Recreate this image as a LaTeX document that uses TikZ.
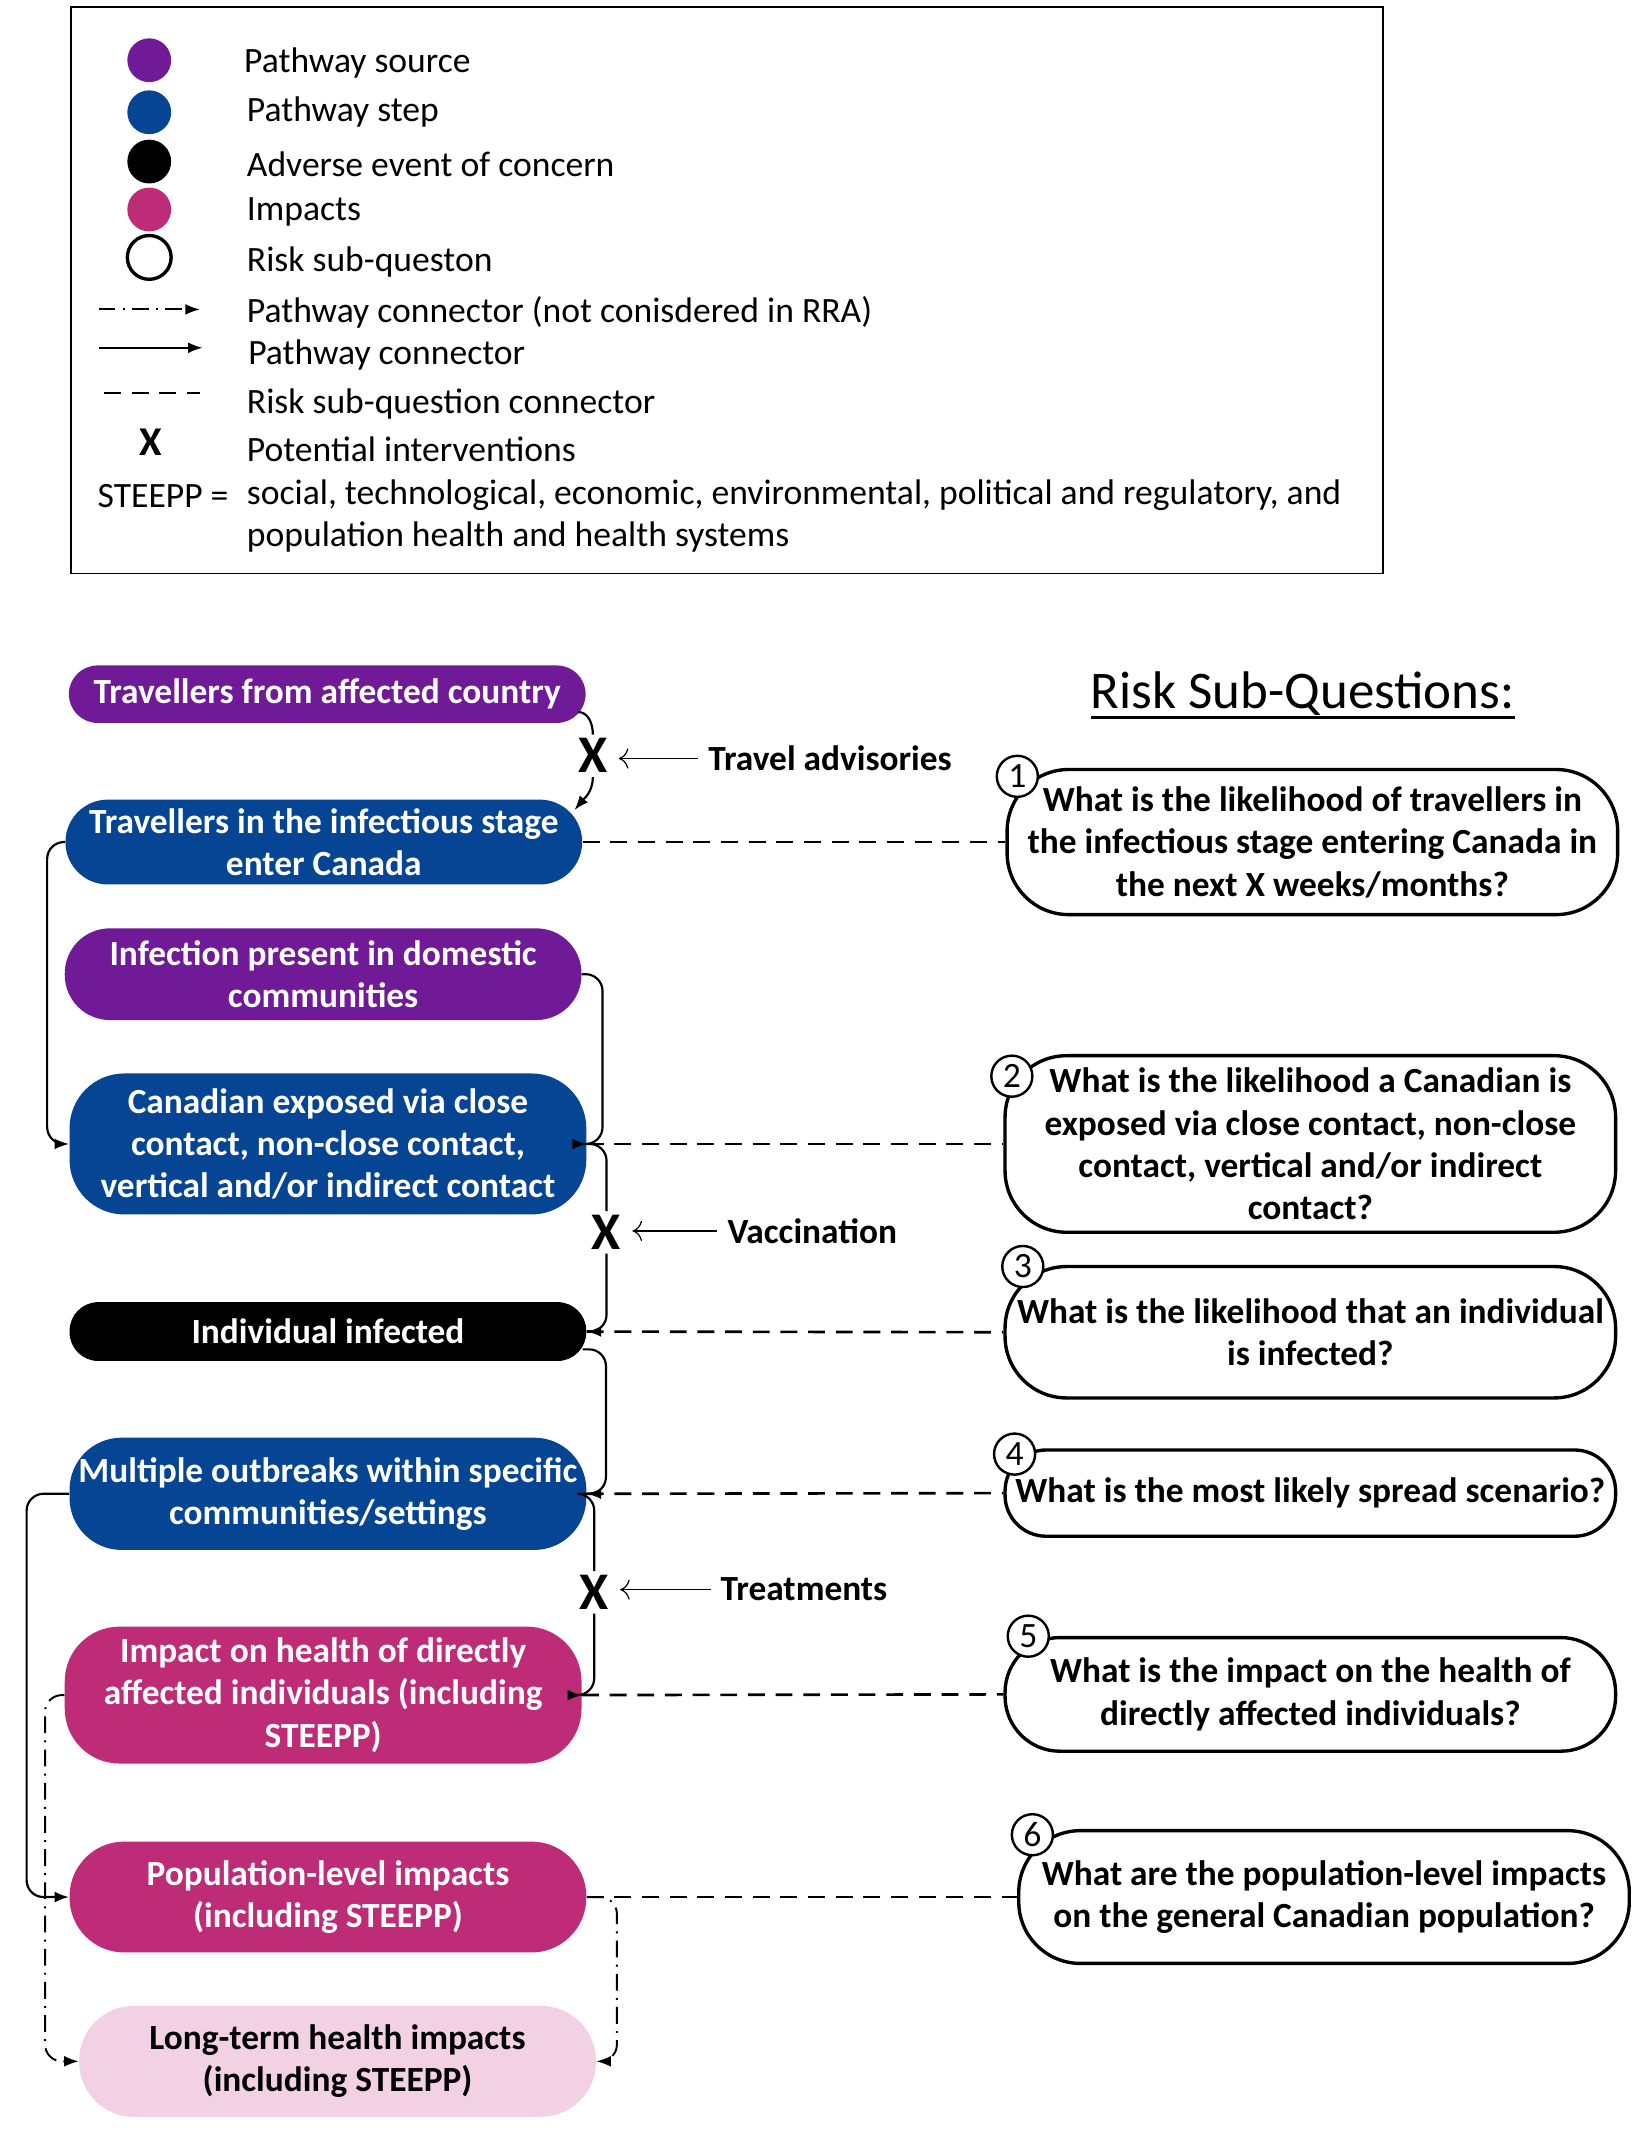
\documentclass[tikz,border=0pt]{standalone}
\usepackage{fontspec}
\setmainfont{Carlito}
\usetikzlibrary{arrows.meta,calc}

\definecolor{srcpurple}{RGB}{112,26,152}
\definecolor{stepblue}{RGB}{6,68,148}
\definecolor{impactpink}{RGB}{190,43,119}
\definecolor{longpink}{RGB}{241,209,227}

\newcommand{\heavyul}[1]{\setbox0=\hbox{#1}\leavevmode\rlap{\rule[-4.5pt]{\wd0}{1.5pt}}\box0}

\tikzset{
	txt/.style={font=\fontsize{14.8}{17.6}\selectfont},
	boldtxt/.style={font=\fontsize{14.7}{17.6}\selectfont\bfseries},
	pathbox/.style={boldtxt, text=white, align=center, inner sep=0pt, minimum width=7.55cm, rounded corners=#1},
	pathbox/.default=0.8cm,
	question/.style={boldtxt, draw, line width=1.4pt, align=center, inner sep=0pt, minimum width=8.92cm, rounded corners=#1},
	question/.default=0.9cm,
	qnum/.style={txt, circle, draw, fill=white, line width=1pt, minimum size=0.6cm, inner sep=0pt},
	legdot/.style={circle, minimum size=0.64cm, inner sep=0pt},
	legtxt/.style={txt, anchor=west, inner sep=0pt},
	xmark/.style={font=\fontsize{22}{26}\selectfont\bfseries, inner sep=1.5pt},
	flow/.style={->, line width=0.9pt, rounded corners=7pt},
	sideflow/.style={->, line width=0.8pt, dash pattern=on 7pt off 3pt on 0.8pt off 3pt, rounded corners=7pt},
	riskline/.style={line width=1.1pt, dash pattern=on 7pt off 4.5pt},
	remedy/.style={-{To[length=4pt]}, line width=0.5pt, shorten <=4pt, shorten >=3pt}
}

\begin{document}
\begin{tikzpicture}[x=0.02cm, y=-0.02cm, >={Latex[length=6pt,width=4.5pt]}]
	\useasboundingbox (0,0) rectangle (1200,1571);

	\draw[line width=0.6pt] (52,5) rectangle (1010,419);

	\node[legdot, fill=srcpurple] (lsrc) at (109,44) {};
	\node[legdot, fill=stepblue] (lstep) at (109,82) {};
	\node[legdot, fill=black] (lev) at (109,118) {};
	\node[legdot, fill=impactpink] (limp) at (109,153) {};
	\node[legdot, draw, line width=1.4pt, fill=white] (lq) at (109,188) {};

	\coordinate (ldda) at (72,226);
	\coordinate (lddb) at (146,226);
	\coordinate (lsla) at (72,254);
	\coordinate (lslb) at (148,254);
	\coordinate (lrqa) at (76,287);
	\coordinate (lrqb) at (146,287);
	\draw[sideflow] (ldda) -- (lddb);
	\draw[flow] (lsla) -- (lslb);
	\draw[riskline] (lrqa) -- (lrqb);
	\node[font=\fontsize{17}{20}\selectfont\bfseries] (lx) at (110,323) {X};

	\node[legtxt] (tsrc) at (178,46) {Pathway source};
	\node[legtxt] (tstep) at (180,82) {Pathway step};
	\node[legtxt] (tev) at (180,120) {Adverse event of concern};
	\node[legtxt] (timp) at (180,155) {Impacts};
	\node[legtxt] (tq) at (180,191) {Risk sub-queston};
	\node[legtxt] (tdd) at (180,228) {Pathway connector (not conisdered in RRA)};
	\node[legtxt] (tsl) at (181,259) {Pathway connector};
	\node[legtxt] (trq) at (180,295) {Risk sub-question connector};
	\node[legtxt] (tx) at (180,328) {Potential interventions};
	\node[legtxt] (tsteepp) at (71,362) {STEEPP =};
	\node[txt, anchor=north west, inner sep=0pt, align=left] (tdef) at (180,350) {social, technological, economic, environmental, political and regulatory, and\\population health and health systems};

	\node[pathbox=0.42cm, fill=srcpurple, minimum height=0.84cm] (trav) at (239,507) {Travellers from affected country};
	\node[pathbox=0.62cm, fill=stepblue, minimum height=1.24cm] (inf) at (236.5,615) {Travellers in the infectious stage\\enter Canada};
	\node[pathbox=0.66cm, fill=srcpurple, minimum height=1.34cm] (dom) at (236,711.5) {Infection present in domestic\\communities};
	\node[pathbox, fill=stepblue, minimum height=2.06cm] (exp) at (239.5,835.5) {Canadian exposed via close\\contact, non-close contact,\\vertical and/or indirect contact};
	\node[pathbox=0.42cm, fill=black, minimum height=0.86cm] (ind) at (239.5,972.5) {Individual infected};
	\node[pathbox=0.76cm, fill=stepblue, minimum height=1.64cm] (outb) at (239.5,1091) {Multiple outbreaks within specific\\communities/settings};
	\node[pathbox, fill=impactpink, minimum height=2cm] (health) at (236,1238) {Impact on health of directly\\affected individuals (including\\STEEPP)};
	\node[pathbox, fill=impactpink, minimum height=1.62cm] (popl) at (239.5,1385.5) {Population-level impacts\\(including STEEPP)};
	\node[pathbox, fill=longpink, text=black, minimum height=1.62cm] (longt) at (246.5,1505.5) {Long-term health impacts\\(including STEEPP)};

	\node[xmark] (x1) at (433,552) {X};
	\node[xmark] (x2) at (443,900) {X};
	\node[xmark] (x3) at (434,1163) {X};

	\node[boldtxt, anchor=west, inner sep=0pt] (advis) at (517,554) {Travel advisories};
	\node[boldtxt, anchor=west, inner sep=0pt] (vacc) at (531,899) {Vaccination};
	\node[boldtxt, anchor=west, inner sep=0pt] (treat) at (526,1161) {Treatments};
	\draw[remedy] (advis.west) -- (advis.west -| x1.east);
	\draw[remedy] (vacc.west) -- (vacc.west -| x2.east);
	\draw[remedy] (treat.west) -- (treat.west -| x3.east);

	\draw[flow, -] ($(trav.east)+(-6,13)$) to[out=0, in=90] (x1.north);
	\draw[flow] (x1.south) to[out=-90, in=50] ($(inf.north east)+(-6,8)$);
	\draw[flow] (inf.west) -- ++(-13,0) |- (exp.west);
	\draw[flow] (dom.east) -- ++(15,0) |- (exp.east);
	\draw[flow, -] (exp.east) -| (x2.north);
	\draw[flow] (x2.south) |- (ind.east);
	\draw[flow] ($(ind.east)+(-3,13)$) -- ++(17,0) |- (outb.east);
	\draw[flow, -] (outb.east) -| (x3.north);
	\draw[flow] (x3.south) |- (health.east);
	\draw[flow] (outb.west) -- ++(-31,0) |- (popl.west);
	\draw[sideflow] (health.west) -- ++(-14,0) |- (longt.west);
	\draw[sideflow] (popl.east) -- ++(22,0) |- (longt.east);

	\node[font=\fontsize{22}{26}\selectfont] (title) at (951.5,508) {\heavyul{Risk Sub-Questions:}};

	\node[question, minimum height=2.12cm] (q1) at (958.5,615) {What is the likelihood of travellers in\\the infectious stage entering Canada in\\the next X weeks/months?};
	\node[question, minimum height=2.58cm] (q2) at (957,835.5) {What is the likelihood a Canadian is\\exposed via close contact, non-close\\contact, vertical and/or indirect\\contact?};
	\node[question, minimum height=1.92cm] (q3) at (957,973) {What is the likelihood that an individual\\is infected?};
	\node[question=0.6cm, minimum height=1.26cm] (q4) at (957,1090.5) {What is the most likely spread scenario?};
	\node[question=0.8cm, minimum height=1.66cm] (q5) at (957,1237.5) {What is the impact on the health of\\directly affected individuals?};
	\node[question, minimum height=1.94cm] (q6) at (967,1385.5) {What are the population-level impacts\\on the general Canadian population?};

	\node[qnum] (n1) at (743,567) {1};
	\node[qnum] (n2) at (739,786) {2};
	\node[qnum] (n3) at (747,925) {3};
	\node[qnum] (n4) at (741,1062) {4};
	\node[qnum] (n5) at (751,1195) {5};
	\node[qnum] (n6) at (754,1340) {6};

	\draw[riskline] (inf.east) -- (q1.west);
	\draw[riskline] (exp.east) -- (q2.west);
	\draw[riskline] (ind.east) -- (q3.west);
	\draw[riskline] (outb.east) -- (q4.west);
	\draw[riskline] (health.east) -- (q5.west);
	\draw[riskline] (popl.east) -- (q6.west);
\end{tikzpicture}
\end{document}
